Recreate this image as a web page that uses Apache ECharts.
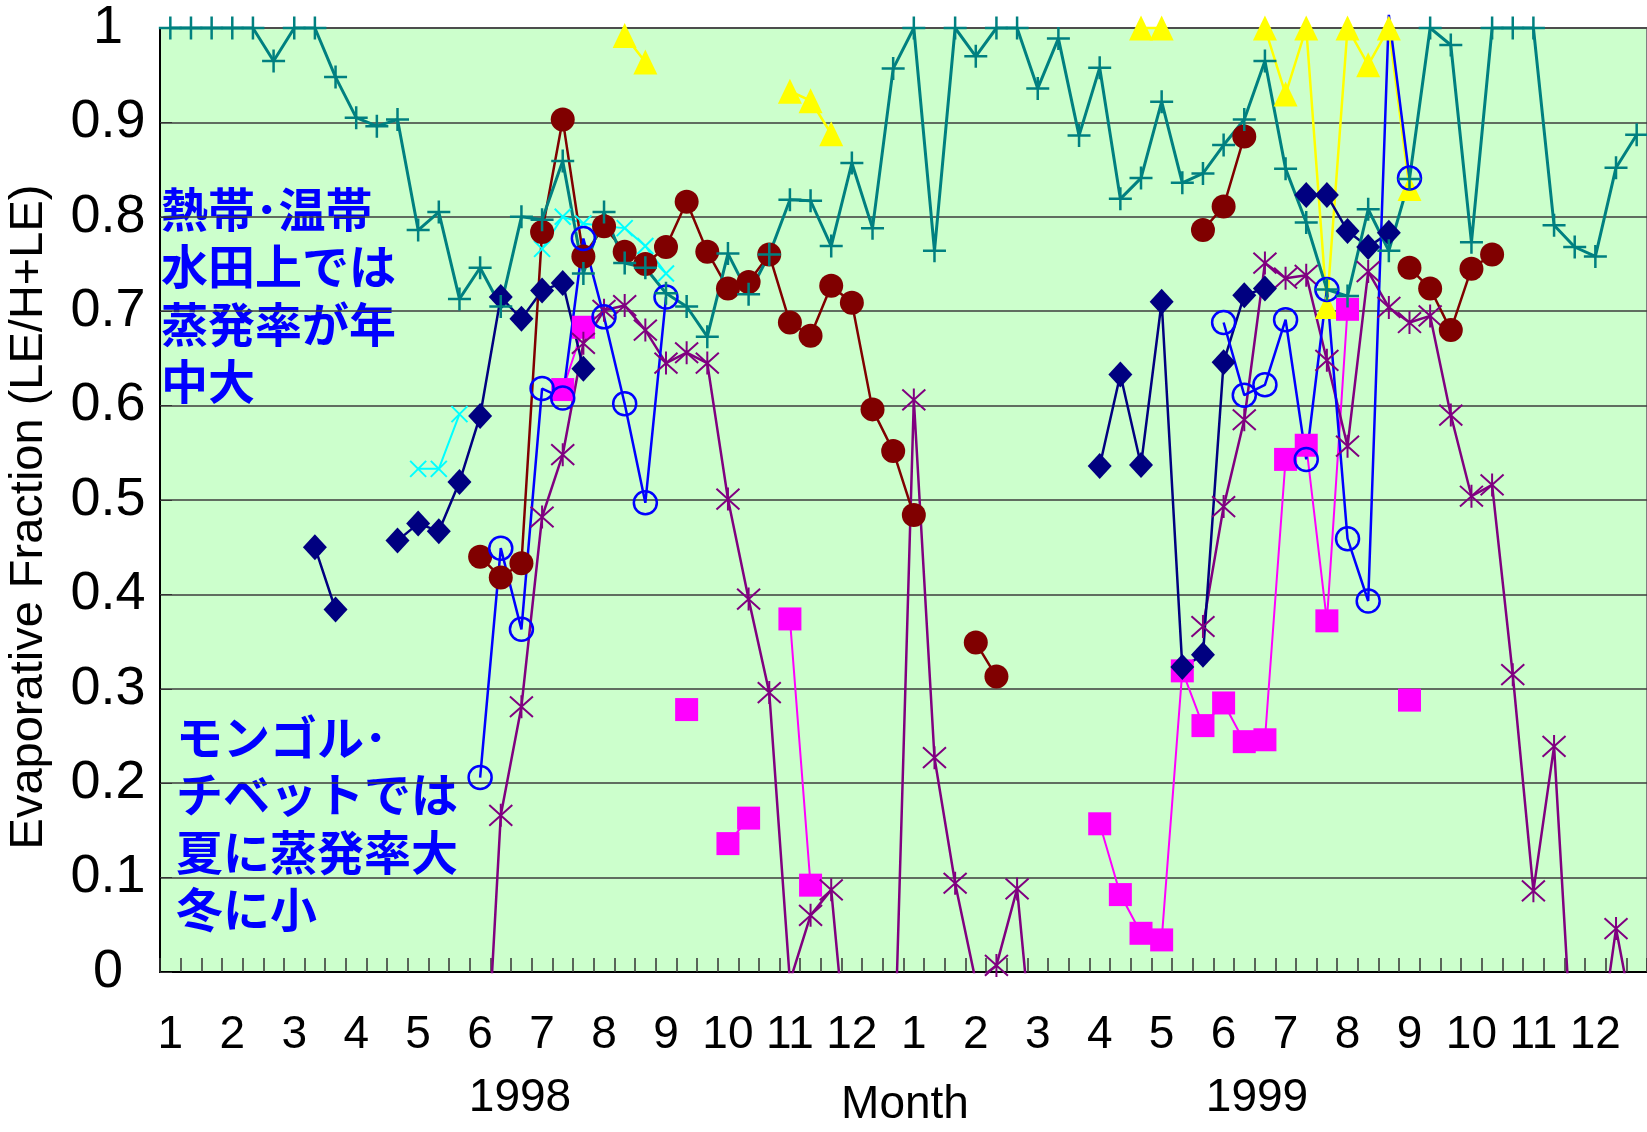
<!DOCTYPE html>
<html>
<head>
<meta charset="utf-8">
<title>Evaporative Fraction 1998-1999</title>
<script src="https://cdn.jsdelivr.net/npm/echarts/dist/echarts.min.js"></script>
<style>
body{margin:0;background:#fff;}
#chart{width:1647px;height:1132px;}
</style>
</head>
<body>
<div id="chart"></div>
<script>
// month tick labels (3 dekads per month, 1998-1999)
var monthTicks = ['1','2','3','4','5','6','7','8','9','10','11','12',
                  '1','2','3','4','5','6','7','8','9','10','11','12'];
var yearLabels = ['1998', '1999'];

// values per dekad, 72 per series (null = no data)
var tealPlus = [
	1, 1, 1, 1, 1, 0.965, 1, 1, 0.948, 0.905, 0.896, 0.903,
	0.786, 0.805, 0.713, 0.746, 0.705, 0.800, 0.797, 0.859, 0.740, 0.805, 0.751, 0.746,
	0.719, 0.705, 0.673, 0.761, 0.718, 0.760, 0.818, 0.817, 0.769, 0.857, 0.788, 0.957,
	1, 0.764, 1, 0.970, 1, 1, 0.936, 0.989, 0.886, 0.958, 0.819, 0.841,
	0.922, 0.836, 0.846, 0.876, 0.903, 0.965, 0.851, 0.794, 0.723, 0.716, 0.808, 0.764,
	0.840, 1, 0.982, 0.773, 1, 1, 1, 0.791, 0.768, 0.758, 0.852, 0.887
];
var navyDiamond = [
	null, null, null, null, null, null, null, 0.450, 0.384, null, null, 0.457,
	0.475, 0.467, 0.519, 0.589, 0.715, 0.692, 0.722, 0.730, 0.639, null, null, null,
	null, null, null, null, null, null, null, null, null, null, null, null,
	null, null, null, null, null, null, null, null, null, 0.536, 0.633, 0.537,
	0.710, 0.323, 0.336, 0.646, 0.717, 0.724, null, 0.823, 0.823, 0.785, 0.768, 0.783,
	null, null, null, null, null, null, null, null, null, null, null, null
];
var blueCircle = [
	null, null, null, null, null, null, null, null, null, null, null, null,
	null, null, null, 0.206, 0.449, 0.363, 0.618, 0.608, 0.777, 0.694, 0.602, 0.497,
	0.715, null, null, null, null, null, null, null, null, null, null, null,
	null, null, null, null, null, null, null, null, null, null, null, null,
	null, null, null, 0.688, 0.611, 0.622, 0.691, 0.543, 0.723, 0.459, 0.393, 1.014,
	0.841, null, null, null, null, null, null, null, null, null, null, null
];
var redDot = [
	null, null, null, null, null, null, null, null, null, null, null, null,
	null, null, null, 0.440, 0.418, 0.433, 0.784, 0.903, 0.758, 0.790, 0.763, 0.750,
	0.768, 0.816, 0.763, 0.724, 0.731, 0.760, 0.688, 0.674, 0.727, 0.709, 0.596, 0.552,
	0.484, null, null, 0.349, 0.313, null, null, null, null, null, null, null,
	null, null, 0.786, 0.811, 0.885, null, null, null, null, null, null, null,
	0.746, 0.724, 0.680, 0.745, 0.760, null, null, null, null, null, null, null
];
var pinkSquare = [
	null, null, null, null, null, null, null, null, null, null, null, null,
	null, null, null, null, null, null, null, 0.617, 0.683, null, null, null,
	null, 0.278, null, 0.136, 0.163, null, 0.374, 0.092, null, null, null, null,
	null, null, null, null, null, null, null, null, null, 0.157, 0.082, 0.041,
	0.034, 0.319, 0.261, 0.285, 0.244, 0.246, 0.543, 0.558, 0.372, 0.702, null, null,
	0.288, null, null, null, null, null, null, null, null, null, null, null
];
var yellowTri = [
	null, null, null, null, null, null, null, null, null, null, null, null,
	null, null, null, null, null, null, null, null, null, null, 0.992, 0.964,
	null, null, null, null, null, null, 0.933, 0.923, 0.888, null, null, null,
	null, null, null, null, null, null, null, null, null, null, null, 1,
	1, null, null, null, null, 1, 0.930, 1, 0.705, 1, 0.961, 1,
	0.830, null, null, null, null, null, null, null, null, null, null, null
];
var cyanCross = [
	null, null, null, null, null, null, null, null, null, null, null, null,
	0.533, 0.533, 0.591, null, null, null, 0.766, 0.800, 0.793, 0.790, 0.788, 0.769,
	0.740, null, null, null, null, null, null, null, null, null, null, null,
	null, null, null, null, null, null, null, null, null, null, null, null,
	null, null, null, null, null, null, null, null, null, null, null, null,
	null, null, null, null, null, null, null, null, null, null, null, null
];
var purpleStar = [
	null, null, null, null, null, null, null, null, null, null, null, null,
	null, null, null, -0.23, 0.166, 0.281, 0.482, 0.548, 0.666, 0.701, 0.706, 0.680,
	0.645, 0.656, 0.645, 0.501, 0.395, 0.296, -0.01, 0.060, 0.087, -0.146, -0.2, -0.139,
	0.606, 0.227, 0.094, -0.01, 0.007, 0.088, -0.14, null, null, null, null, null,
	null, null, 0.366, 0.493, 0.585, 0.751, 0.735, 0.738, 0.648, 0.557, 0.742, 0.704,
	0.688, 0.695, 0.590, 0.504, 0.516, 0.315, 0.086, 0.239, -0.133, -0.11, 0.046, -0.069
];

var categories = [];
for (var m = 0; m < monthTicks.length; m++) {
	for (var d = 0; d < 3; d++) {
		categories.push(d == 0 ? monthTicks[m] : '');
	}
}

var plusPath = 'path://M10,0L10,20M0,10L20,10';
var crossPath = 'path://M0,0L20,20M0,20L20,0';
var starPath = 'path://M10,0L10,20M1,1L19,19M1,19L19,1';

function makeSeries(name, values, color, symbol, size, lw, opts){
	var data = [];
	for (var i = 0; i < values.length; i++) {
		// points above the axis max: keep the line, hide the marker
		if (values[i] != null && values[i] > 1) {
			data.push({value: values[i], symbol: 'none'});
		} else {
			data.push(values[i]);
		}
	}
	var s = {
		name: name,
		type: 'line',
		data: data,
		symbol: symbol,
		symbolSize: size,
		showAllSymbol: true,
		connectNulls: false,
		clip: true,
		lineStyle: {color: color, width: lw},
		itemStyle: {color: color},
		emphasis: {disabled: true}
	};
	for (var k in opts) s[k] = opts[k];
	return s;
}

var chart = echarts.init(document.getElementById('chart'));

var option = {
	animation: false,
	grid: {
		left: 160, right: 0, top: 28, bottom: 160,
		show: true,
		backgroundColor: '#CCFFCC',
		borderColor: '#808080',
		borderWidth: 2
	},
	xAxis: {
		type: 'category',
		data: categories,
		boundaryGap: true,
		axisLine: {lineStyle: {color: '#000', width: 2}},
		axisTick: {show: true, inside: true, length: 14, interval: 0, lineStyle: {color: '#333', width: 1.5}},
		axisLabel: {interval: 0, fontSize: 46, color: '#000', fontFamily: 'Liberation Sans', margin: 40},
		splitLine: {show: false}
	},
	yAxis: {
		type: 'value',
		min: 0, max: 1, interval: 0.1,
		axisLine: {show: true, lineStyle: {color: '#000', width: 2}},
		axisTick: {show: true, inside: true, length: 12, lineStyle: {color: '#333'}},
		axisLabel: {fontSize: 54, color: '#000', fontFamily: 'Liberation Sans', margin: 52, align: 'center'},
		splitLine: {lineStyle: {color: '#3c3c3c', width: 1.5}}
	},
	series: [
		makeSeries('yellow', yellowTri, '#FFFF00', 'triangle', [24, 25], 2.5, {clip: false}),
		makeSeries('cyan', cyanCross, '#00FFFF', crossPath, 16, 2, {
			itemStyle: {color: '#00FFFF', borderColor: '#00FFFF', borderWidth: 2}
		}),
		makeSeries('magenta', pinkSquare, '#FF00FF', 'rect', 23, 2),
		makeSeries('purple', purpleStar, '#800080', starPath, 23, 2.5, {
			itemStyle: {color: '#800080', borderColor: '#800080', borderWidth: 2}
		}),
		makeSeries('navy', navyDiamond, '#000080', 'diamond', [24, 26], 2.5),
		makeSeries('red', redDot, '#800000', 'circle', 24, 2.5),
		makeSeries('blue', blueCircle, '#0000FF', 'circle', 23, 2.5, {
			clip: false,
			itemStyle: {color: 'rgba(0,0,255,0)', borderColor: '#0000FF', borderWidth: 2.5}
		}),
		makeSeries('teal', tealPlus, '#008080', plusPath, 23, 3, {
			clip: false,
			itemStyle: {color: '#008080', borderColor: '#008080', borderWidth: 2.5}
		})
	],
	graphic: [
		{type: 'text', x: 29, y: 517, rotation: Math.PI / 2,
			style: {text: 'Evaporative Fraction (LE/H+LE)', font: '47px "Liberation Sans"', fill: '#000', align: 'center', verticalAlign: 'middle'}},
		{type: 'text', x: 520, y: 1098,
			style: {text: yearLabels[0], font: '46px "Liberation Sans"', fill: '#000', align: 'center', verticalAlign: 'middle'}},
		{type: 'text', x: 1257, y: 1098,
			style: {text: yearLabels[1], font: '46px "Liberation Sans"', fill: '#000', align: 'center', verticalAlign: 'middle'}},
		{type: 'text', x: 905, y: 1105,
			style: {text: 'Month', font: '46px "Liberation Sans"', fill: '#000', align: 'center', verticalAlign: 'middle'}},
		{type: 'text', x: 161, y: 180,
			style: {text: '熱帯･温帯\n水田上では\n蒸発率が年\n中大', font: 'bold 47px "Noto Sans CJK JP"', lineHeight: 57.5, fill: '#0000FF', align: 'left', verticalAlign: 'top'}},
		{type: 'text', x: 176, y: 708,
			style: {text: 'モンゴル･\nチベットでは\n夏に蒸発率大\n冬に小', font: 'bold 47px "Noto Sans CJK JP"', lineHeight: 57.5, fill: '#0000FF', align: 'left', verticalAlign: 'top'}}
	]
};
chart.setOption(option);
</script>
</body>
</html>
